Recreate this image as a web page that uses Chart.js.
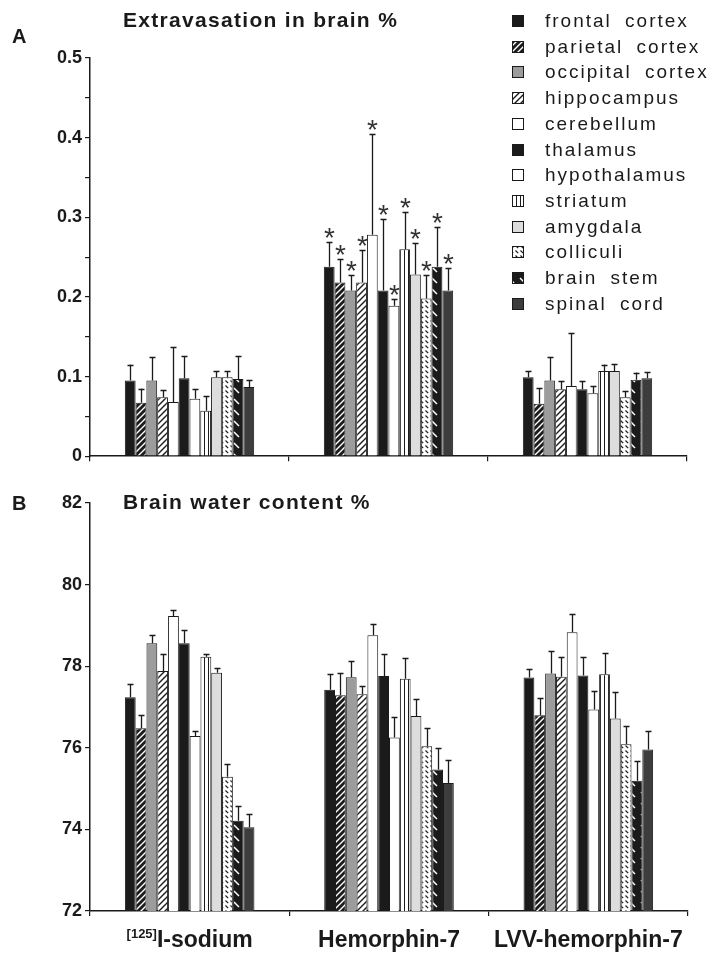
<!DOCTYPE html>
<html>
<head>
<meta charset="utf-8">
<script src="https://cdn.jsdelivr.net/npm/chart.js@4.4.1/dist/chart.umd.min.js"></script>
<style>
  html, body { margin: 0; padding: 0; background: #fff; }
  canvas { display: block; }
</style>
</head>
<body>
<canvas id="extravasation" width="711" height="470"></canvas>
<canvas id="water" width="711" height="483"></canvas>
<script>
const regions = ['frontal cortex', 'parietal cortex', 'occipital cortex', 'hippocampus', 'cerebellum', 'thalamus',
                 'hypothalamus', 'striatum', 'amygdala', 'colliculi', 'brain stem', 'spinal cord'];
const treatments = ['[125]I-sodium', 'Hemorphin-7', 'LVV-hemorphin-7'];

// one row per region: [125I-sodium, hemorphin-7, LVV-hemorphin-7]
const extravasation = [
    [0.095, 0.238, 0.099],
    [0.067, 0.218, 0.066],
    [0.095, 0.208, 0.095],
    [0.074, 0.218, 0.084],
    [0.068, 0.278, 0.088],
    [0.098, 0.208, 0.084],
    [0.072, 0.189, 0.079],
    [0.057, 0.260, 0.107],
    [0.099, 0.228, 0.107],
    [0.099, 0.198, 0.074],
    [0.097, 0.238, 0.096],
    [0.087, 0.208, 0.098]
];
const extravasationErr = [
    [0.020, 0.031, 0.008],
    [0.018, 0.029, 0.020],
    [0.030, 0.019, 0.029],
    [0.009, 0.041, 0.010],
    [0.069, 0.127, 0.067],
    [0.028, 0.090, 0.010],
    [0.012, 0.008, 0.009],
    [0.019, 0.047, 0.008],
    [0.008, 0.040, 0.009],
    [0.008, 0.029, 0.008],
    [0.029, 0.050, 0.009],
    [0.009, 0.028, 0.008]
];
const starredGroups = [1];   // hemorphin-7, every region significant

const water = [
    [77.24, 77.42, 77.72],
    [76.48, 77.29, 76.80],
    [78.56, 77.73, 77.82],
    [77.88, 77.31, 77.74],
    [79.23, 78.76, 78.83],
    [78.56, 77.76, 77.77],
    [76.29, 76.25, 76.94],
    [78.23, 77.69, 77.80],
    [77.84, 76.78, 76.72],
    [75.29, 76.04, 76.09],
    [74.21, 75.47, 75.19],
    [74.05, 75.14, 75.96]
];
const waterErr = [
    [0.32, 0.39, 0.20],
    [0.32, 0.55, 0.41],
    [0.20, 0.40, 0.56],
    [0.41, 0.20, 0.49],
    [0.15, 0.27, 0.45],
    [0.33, 0.53, 0.46],
    [0.12, 0.51, 0.45],
    [0.06, 0.50, 0.53],
    [0.11, 0.41, 0.64],
    [0.31, 0.44, 0.45],
    [0.36, 0.52, 0.49],
    [0.33, 0.56, 0.45]
];

const INK = '#1a1a1a';
const FONT = '"Liberation Sans", Arial, sans-serif';

// fill style of each region's bar: [kind, background, foreground]
const regionFills = [
    ['solid', '#1b1b1b'],
    ['slash', '#1b1b1b', '#ffffff'],
    ['solid', '#9c9c9c'],
    ['slash', '#ffffff', '#1b1b1b'],
    ['solid', '#ffffff'],
    ['solid', '#1b1b1b'],
    ['solid', '#ffffff'],
    ['vert', '#ffffff', '#1b1b1b'],
    ['solid', '#dddddd'],
    ['dots', '#ffffff', '#1b1b1b'],
    ['dash', '#1b1b1b', '#ffffff'],
    ['solid', '#3d3d3d']
];

function makeFill(ctx, spec) {
    const [kind, bg, fg] = spec;
    if (kind === 'solid') return bg;
    const size = {slash: 6, vert: 4, dots: 5, dash: 11}[kind];
    const tile = document.createElement('canvas');
    tile.width = size;
    tile.height = size;
    const t = tile.getContext('2d');
    t.fillStyle = bg;
    t.fillRect(0, 0, size, size);
    t.strokeStyle = fg;
    t.lineWidth = 1.4;
    t.beginPath();
    if (kind === 'slash') {
        t.moveTo(-1, size + 1); t.lineTo(size + 1, -1);
        t.moveTo(-1, 1); t.lineTo(1, -1);
        t.moveTo(size - 1, size + 1); t.lineTo(size + 1, size - 1);
    } else if (kind === 'vert') {
        t.lineWidth = 1;
        t.moveTo(0.5, 0); t.lineTo(0.5, size);
    } else if (kind === 'dots') {
        t.lineWidth = 1.2;
        t.moveTo(0.5, 0.5); t.lineTo(3.2, 3.2);
    } else {
        t.lineWidth = 1.5;
        t.moveTo(3, 3); t.lineTo(8, 8);
    }
    t.stroke();
    return ctx.createPattern(tile, 'repeat');
}

// upper error whiskers (+ asterisks) drawn through the y scale
const errorBars = {
    id: 'errorBars',
    afterDatasetsDraw(chart, args, opts) {
        const ctx = chart.ctx;
        const y = chart.scales.y;
        ctx.save();
        ctx.strokeStyle = INK;
        ctx.fillStyle = '#333';
        ctx.lineWidth = 1.3;
        ctx.textAlign = 'center';
        ctx.textBaseline = 'alphabetic';
        ctx.font = '28px ' + FONT;
        chart.data.datasets.forEach((ds, i) => {
            chart.getDatasetMeta(i).data.forEach((bar, j) => {
                const top = y.getPixelForValue(ds.data[j] + opts.errors[i][j]);
                const x = Math.round(bar.x) + 0.5;
                ctx.beginPath();
                ctx.moveTo(x, bar.y);
                ctx.lineTo(x, top);
                ctx.moveTo(x - 3, Math.round(top) + 0.5);
                ctx.lineTo(x + 3, Math.round(top) + 0.5);
                ctx.stroke();
                if ((opts.starred || []).includes(j)) {
                    ctx.fillText('*', x, top + 5);
                }
            });
        });
        ctx.restore();
    }
};

const panelA = {
    id: 'panelA',
    afterDraw(chart) {
        const ctx = chart.ctx;
        ctx.save();
        ctx.fillStyle = INK;
        ctx.textBaseline = 'alphabetic';
        ctx.font = 'bold 20px ' + FONT;
        ctx.fillText('A', 12, 43);
        ctx.font = 'bold 21px ' + FONT;
        ctx.letterSpacing = '1.3px';
        ctx.fillText('Extravasation in brain %', 123, 27);

        // legend
        ctx.font = '19px ' + FONT;
        ctx.letterSpacing = '2px';
        ctx.wordSpacing = '6px';
        ctx.textBaseline = 'middle';
        ctx.strokeStyle = INK;
        ctx.lineWidth = 1;
        chart.data.datasets.forEach((ds, i) => {
            const cy = Math.round(21 + i * 25.7);
            ctx.fillStyle = ds.backgroundColor;
            ctx.fillRect(512, cy - 6, 12, 12);
            ctx.strokeRect(512.5, cy - 5.5, 11, 11);
            ctx.fillStyle = INK;
            ctx.fillText(ds.label, 545, cy + 1);
        });
        ctx.letterSpacing = '0px';
        ctx.wordSpacing = '0px';
        ctx.restore();
    }
};

const panelB = {
    id: 'panelB',
    afterDraw(chart) {
        const ctx = chart.ctx;
        const x = chart.scales.x;
        const base = chart.chartArea.bottom + 36;
        ctx.save();
        ctx.fillStyle = INK;
        ctx.textBaseline = 'alphabetic';
        ctx.font = 'bold 20px ' + FONT;
        ctx.fillText('B', 12, 40);
        ctx.font = 'bold 21px ' + FONT;
        ctx.letterSpacing = '1.3px';
        ctx.fillText('Brain water content %', 123, 39);
        ctx.letterSpacing = '0px';

        // category labels, "[125]" as superscript
        chart.data.labels.forEach((label, i) => {
            const m = label.match(/^\[(\d+)\](.*)$/);
            const sup = m ? '[' + m[1] + ']' : '';
            const main = m ? m[2] : label;
            ctx.font = 'bold 13px ' + FONT;
            const wSup = sup ? ctx.measureText(sup).width : 0;
            ctx.font = 'bold 23px ' + FONT;
            const wMain = ctx.measureText(main).width;
            let left = x.getPixelForValue(i) - (wSup + wMain) / 2;
            if (sup) {
                ctx.font = 'bold 13px ' + FONT;
                ctx.fillText(sup, left, base - 9);
                ctx.font = 'bold 23px ' + FONT;
            }
            ctx.fillText(main, left + wSup, base);
        });
        ctx.restore();
    }
};

function xScale(height) {
    return {
        border: {color: INK, width: 1.5},
        grid: {drawOnChartArea: false, color: INK, tickLength: 5, lineWidth: 1.2, offset: true},
        ticks: {display: false},
        afterFit: s => { s.height = height; }
    };
}

function yScale(min, max, step, callback) {
    return {
        min: min,
        max: max,
        border: {color: INK, width: 1.5},
        grid: {drawOnChartArea: false, color: INK, tickLength: 5, lineWidth: 1.2},
        ticks: {
            stepSize: step,
            autoSkip: false,
            padding: 3,
            color: INK,
            font: {family: FONT, size: 18, weight: 'bold'},
            callback: callback
        },
        afterFit: s => { s.width = 90; }
    };
}

function buildChart(id, means, errs, starred, scales, padding, decor) {
    const canvas = document.getElementById(id);
    const ctx = canvas.getContext('2d');
    const datasets = regions.map((name, i) => ({
        label: name,
        data: means[i],
        backgroundColor: makeFill(ctx, regionFills[i]),
        borderColor: INK,
        borderWidth: 1,
        categoryPercentage: 0.65,
        barPercentage: 1.0
    }));
    return new Chart(canvas, {
        type: 'bar',
        data: {labels: treatments, datasets: datasets},
        options: {
            responsive: false,
            animation: false,
            layout: {padding: padding},
            scales: scales,
            plugins: {
                legend: {display: false},
                tooltip: {enabled: false},
                errorBars: {errors: errs, starred: starred}
            }
        },
        plugins: [errorBars, decor]
    });
}

buildChart('extravasation', extravasation, extravasationErr, starredGroups, {
    x: xScale(13),
    y: yScale(0, 0.5, 0.05, v => {
        const k = Math.round(v * 100);
        if (k % 10 !== 0) return '';
        return k === 0 ? '0' : (k / 100).toFixed(1);
    })
}, {top: 58, right: 24, left: 0, bottom: 0}, panelA);

buildChart('water', water, waterErr, [], {
    x: xScale(42),
    y: yScale(72, 82, 2, v => String(v))
}, {top: 33, right: 23, left: 0, bottom: 0}, panelB);
</script>
</body>
</html>
